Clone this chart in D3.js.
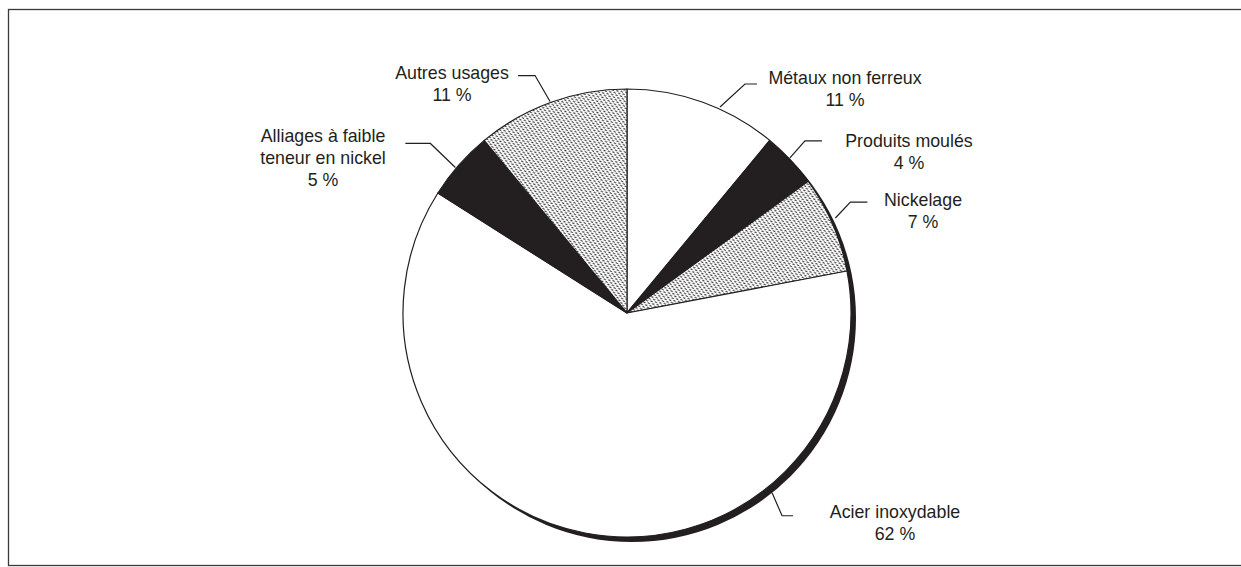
<!DOCTYPE html>
<html>
<head>
<meta charset="utf-8">
<script src="https://cdn.jsdelivr.net/npm/d3@7/dist/d3.min.js"></script>
<style>
  html, body { margin: 0; padding: 0; background: #fff; }
  svg { display: block; }
  text { font-family: "Liberation Sans", Arial, Helvetica, sans-serif; fill: #231f20; }
</style>
</head>
<body>
<svg id="chart" width="1241" height="567"></svg>
<script>
// Nickel end uses, share of consumption (%), clockwise from 12 o'clock
const categories = ["Métaux non ferreux", "Produits moulés", "Nickelage", "Acier inoxydable", "Alliages à faible teneur en nickel", "Autres usages"];
const shares = [11, 4, 7, 62, 5, 11];
const labelLines = [
  ["Métaux non ferreux"],
  ["Produits moulés"],
  ["Nickelage"],
  ["Acier inoxydable"],
  ["Alliages à faible", "teneur en nickel"],
  ["Autres usages"]
];
const fills = ["white", "ink", "dots", "white", "ink", "dots"];

// Callout layout: anchor angle on the rim (deg), elbow offset, tail length, text centre
const callouts = [
  { a: 24.3, r: 226, ex: 25, ey: -23, tail: 12, tx: 845, ty: 84 },
  { a: 46.4, r: 225, ex: 15, ey: -17, tail: 17, tx: 909, ty: 147 },
  { a: 65.5, r: 229, ex: 15, ey: -16, tail: 17, tx: 923, ty: 206 },
  { a: 141.1, r: 231, ex: 10, ey: 23, tail: 11, tx: 895, ty: 518 },
  { a: 310.3, r: 225, ex: -25, ey: -24, tail: -25, tx: 323, ty: 142 },
  { a: 340.0, r: 225, ex: -15, ey: -26, tail: -17, tx: 452, ty: 79 }
];

const W = 1241, H = 567;
const cx = 627, cy = 313, R = 224;
const lineGap = 22;

const svg = d3.select("#chart");
const defs = svg.append("defs");

// fine stippled hatch used on two sectors
const pat = defs.append("pattern")
  .attr("id", "dots")
  .attr("patternUnits", "userSpaceOnUse")
  .attr("width", 3.2).attr("height", 3.2)
  .attr("patternTransform", "rotate(-35)");
pat.append("rect").attr("width", 3.2).attr("height", 3.2).attr("fill", "#fff");
pat.append("line")
  .attr("x1", 0.5).attr("y1", 0.3).attr("x2", 1.7).attr("y2", 2.4)
  .attr("stroke", "#2e2e2e").attr("stroke-width", 1.1);

// outer frame
svg.append("rect")
  .attr("x", 8.5).attr("y", 9.5)
  .attr("width", W + 20).attr("height", 556)
  .attr("fill", "none").attr("stroke", "#3a3a3a").attr("stroke-width", 1.3);

const fillOf = k => k === "ink" ? "#231f20" : k === "dots" ? "url(#dots)" : "#fff";

const pie = d3.pie().sort(null).value(d => d)(shares);
const arc = d3.arc().innerRadius(0).outerRadius(R);

const g = svg.append("g").attr("transform", `translate(${cx},${cy})`);

// drop shadow disc behind the pie
g.append("circle")
  .attr("cx", 5).attr("cy", 5)
  .attr("r", R)
  .attr("fill", "#231f20");

g.selectAll("path.slice")
  .data(pie)
  .join("path")
  .attr("class", "slice")
  .attr("d", arc)
  .attr("fill", (d, i) => fillOf(fills[i]))
  .attr("stroke", "#231f20")
  .attr("stroke-width", 1.2)
  .attr("stroke-linejoin", "round");

// callouts
const pct = d3.format("d");
callouts.forEach((c, i) => {
  const rad = c.a * Math.PI / 180;
  const x0 = cx + c.r * Math.sin(rad), y0 = cy - c.r * Math.cos(rad);
  const x1 = x0 + c.ex, y1 = y0 + c.ey;
  const x2 = x1 + c.tail;
  svg.append("polyline")
    .attr("points", `${x0},${y0} ${x1},${y1} ${x2},${y1}`)
    .attr("fill", "none").attr("stroke", "#231f20").attr("stroke-width", 1.2);

  const lines = labelLines[i].concat([pct(shares[i]) + " %"]);
  const t = svg.append("text")
    .attr("text-anchor", "middle")
    .attr("font-size", 17.8);
  lines.forEach((s, k) => {
    t.append("tspan").attr("x", c.tx).attr("y", c.ty + k * lineGap).text(s);
  });
});
</script>
</body>
</html>
